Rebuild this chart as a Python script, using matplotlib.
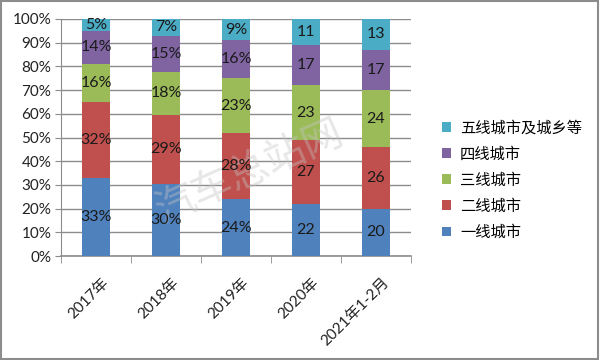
import matplotlib
matplotlib.use("Agg")
import matplotlib.pyplot as plt
import numpy as np

plt.rcParams['font.family'] = ['Lato', 'Noto Sans CJK SC', 'DejaVu Sans']

categories = ["2017年", "2018年", "2019年", "2020年", "2021年1-2月"]
series_names = ["一线城市", "二线城市", "三线城市", "四线城市", "五线城市及城乡等"]
tier1 = [33, 30, 24, 22, 20]
tier2 = [32, 29, 28, 27, 26]
tier3 = [16, 18, 23, 23, 24]
tier4 = [14, 15, 16, 17, 17]
tier5 = [5, 7, 9, 11, 13]
label_fmt = ["{}%", "{}%", "{}%", "{}", "{}"]
colors = ["#4F81BD", "#C0504D", "#9BBB59", "#8064A2", "#4BACC6"]

data = np.array([tier1, tier2, tier3, tier4, tier5], dtype=float)
totals = data.sum(axis=0)
pct = data / totals * 100

fig = plt.figure(figsize=(6, 3.6), dpi=100)
ax = fig.add_axes([61/600, 1-256/360, 350/600, 237/360])

x = np.arange(len(categories))
bottom = np.zeros(len(categories))
handles = []
for i in range(5):
    b = ax.bar(x, pct[i], bottom=bottom, width=0.39, color=colors[i], zorder=3,
               label=series_names[i])
    handles.append(b)
    for j in range(len(categories)):
        ax.text(x[j], bottom[j] + pct[i][j] / 2, label_fmt[j].format(int(data[i][j])),
                ha='center', va='center', fontsize=11.5, color='#1a1a1a', zorder=5)
    bottom += pct[i]

ax.set_xlim(-0.5, len(categories) - 0.5)
ax.set_ylim(0, 100)
ax.set_yticks(np.arange(0, 101, 10))
ax.set_yticklabels([f"{v}%" for v in range(0, 101, 10)], fontsize=11, color='#222222')
ax.yaxis.grid(True, color='#8c8c8c', linewidth=1.0, zorder=0)
ax.set_axisbelow(True)
for s in ['top', 'right', 'bottom']:
    ax.spines[s].set_visible(False)
ax.spines['left'].set_color('#8c8c8c')
ax.tick_params(axis='y', length=4, color='#8c8c8c', pad=3)

ax.set_xticks(x)
ax.set_xticklabels([])
ax.tick_params(axis='x', length=0)
ax.set_xticks(np.arange(-0.5, len(categories), 1), minor=True)
ax.tick_params(axis='x', which='minor', length=5, color='#8c8c8c', direction='out')
ax.axhline(0, color='#8c8c8c', linewidth=1.2, zorder=2, clip_on=False)

for j, c in enumerate(categories):
    ax.annotate(c, xy=(x[j], 0), xycoords='data', xytext=(4, -14), textcoords='offset points',
                rotation=45, ha='right', va='top', rotation_mode='anchor', fontsize=11,
                color='#222222')

ax.text(250/600, 1-172/360, "汽车总站网", transform=fig.transFigure, rotation=24, fontsize=29,
        color='#c4c4c4', alpha=0.4, ha='center', va='center', family=['Noto Sans CJK SC'],
        fontweight='light', zorder=4, clip_on=False)

leg = fig.legend(handles[::-1], series_names[::-1], loc='center left',
                 bbox_to_anchor=(428/600, 1-180/360), frameon=False,
                 handlelength=0.6, handleheight=0.6, handletextpad=0.6, labelspacing=0.6,
                 prop={'family': ['Noto Sans CJK SC'], 'size': 11})

fig.add_artist(plt.Rectangle((0.002, 0.003), 0.995, 0.994, transform=fig.transFigure,
                             fill=False, edgecolor='#8c8c8c', linewidth=1.5))

fig.savefig("out.png", dpi=100)
